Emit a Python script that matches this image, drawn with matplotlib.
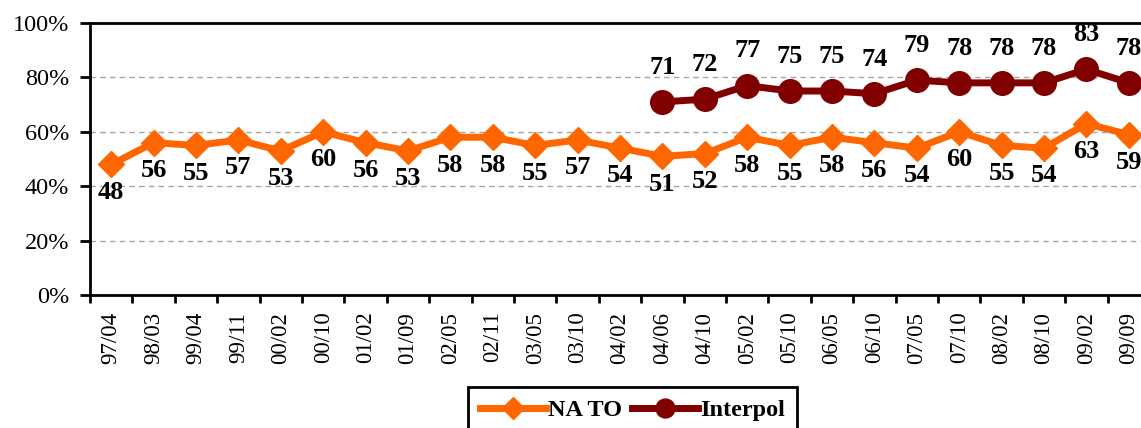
import numpy as np
import matplotlib.pyplot as plt

plt.rcParams['font.family'] = ['Liberation Serif', 'DejaVu Serif']

periods = ['97/04', '98/03', '99/04', '99/11', '00/02', '00/10', '01/02', '01/09',
           '02/05', '02/11', '03/05', '03/10', '04/02', '04/06', '04/10', '05/02',
           '05/10', '06/05', '06/10', '07/05', '07/10', '08/02', '08/10', '09/02', '09/09']
nato = [48, 56, 55, 57, 53, 60, 56, 53, 58, 58, 55, 57, 54, 51, 52, 58,
        55, 58, 56, 54, 60, 55, 54, 63, 59]
interpol_start = '04/06'
interpol = [71, 72, 77, 75, 75, 74, 79, 78, 78, 78, 83, 78]

orange = '#FF6600'
darkred = '#800000'

fig = plt.figure(figsize=(11.41, 4.28), dpi=100)
ax = fig.add_axes([0.0789, 0.3107, 0.929, 0.6355])

x = np.arange(len(periods))
xi = np.arange(periods.index(interpol_start), len(periods))

ax.plot(x, nato, color=orange, lw=5, marker='D', ms=13.5, label='NA TO', zorder=3)
ax.plot(xi, interpol, color=darkred, lw=5, marker='o', ms=17, label='Interpol', zorder=3)

# подписи значений
for xx, v in zip(x, nato):
    ax.annotate(str(v), (xx, v), xytext=(0, -20), textcoords='offset points',
                ha='center', va='center', fontsize=19, fontweight='bold')
for xx, v in zip(xi, interpol):
    ax.annotate(str(v), (xx, v), xytext=(0, 25), textcoords='offset points',
                ha='center', va='center', fontsize=19, fontweight='bold')

ax.set_ylim(0, 100)
ax.set_xlim(-0.5, len(periods) - 0.5)
ax.set_yticks(np.arange(0, 101, 20))
ax.set_yticklabels([f'{v}%' for v in range(0, 101, 20)], fontsize=17.5)
ax.set_xticks(x)
ax.set_xticklabels(periods, rotation=90, fontsize=16.5)
ax.set_xticks(np.arange(-0.5, len(periods), 1), minor=True)
ax.tick_params(axis='x', which='major', length=0, pad=12)
ax.tick_params(axis='x', which='minor', length=6, width=2, direction='out')
ax.tick_params(axis='y', length=7, width=2, direction='out', pad=8)

for y in [20, 40, 60, 80]:
    ax.axhline(y, color='#A6A6A6', lw=1, ls=(0, (4, 3)), zorder=1)

for s in ax.spines.values():
    s.set_linewidth(2)
    s.set_color('black')

fig.legend(loc='upper center', bbox_to_anchor=(0.5545, 0.096), ncol=2,
           prop={'size': 17.5, 'weight': 'bold'}, frameon=True, fancybox=False,
           edgecolor='black', framealpha=1, borderaxespad=0, handlelength=2.7,
           handletextpad=0.1, columnspacing=0.4, borderpad=0.5, markerscale=0.8)
fig.legends[0].get_frame().set_linewidth(2)

fig.savefig('out.png', dpi=100)
